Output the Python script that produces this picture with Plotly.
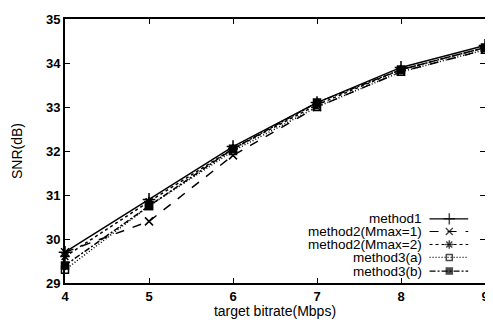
import plotly.graph_objects as go

bitrate = [4, 5, 6, 7, 8, 9]
method1 = [29.7, 30.9, 32.1, 33.1, 33.9, 34.4]
method2_m1 = [29.7, 30.4, 31.9, 33.0, 33.8, 34.3]
method2_m2 = [29.6, 30.85, 32.05, 33.05, 33.85, 34.35]
method3_a = [29.3, 30.75, 32.0, 33.0, 33.8, 34.3]
method3_b = [29.4, 30.75, 32.05, 33.1, 33.85, 34.35]

names = ["method1", "method2(Mmax=1)", "method2(Mmax=2)", "method3(a)", "method3(b)"]
series = [method1, method2_m1, method2_m2, method3_a, method3_b]
dashes = ["solid", "dash", "3px,3px", "1px,2px", "6px,2px,2px,2px"]
symbols = ["cross-thin", "x-thin", "asterisk-open", "square-open", "square"]
sizes = [9, 8, 8, 7, 7]

FONT = "Liberation Sans, Arial, sans-serif"
fig = go.Figure()

for name, ys, d, s, sz in zip(names, series, dashes, symbols, sizes):
    fig.add_trace(go.Scatter(
        x=bitrate, y=ys, name=name, mode="lines+markers", cliponaxis=False,
        line=dict(color="black", width=1.5, dash=d),
        marker=dict(symbol=s, size=sz, color="black",
                    line=dict(color="black", width=1.5)),
        showlegend=False))

# custom legend (text right-aligned, sample to the right)
leg_rows = [0.243, 0.195, 0.146, 0.097, 0.045]
text_x = 0.853
samp_x0, samp_xm, samp_x1 = 0.868, 0.915, 0.96
for name, yr, d, s, sz in zip(names, leg_rows, dashes, symbols, sizes):
    fig.add_trace(go.Scatter(
        x=[samp_x0, samp_xm, samp_x1], y=[yr, yr, yr], mode="lines+markers",
        xaxis="x2", yaxis="y2",
        line=dict(color="black", width=1.1, dash=d),
        marker=dict(symbol=s, size=[0, sz - 1, 0], color="black",
                    line=dict(color="black", width=1.5)),
        showlegend=False, hoverinfo="skip"))
    fig.add_annotation(x=text_x, y=yr, xref="paper", yref="paper",
                       text=name, showarrow=False, xanchor="right", yanchor="middle",
                       borderpad=0,
                       font=dict(family=FONT, size=13.5, color="black"))

axis_common = dict(showline=True, linecolor="black", linewidth=1.8, mirror="ticks",
                   ticks="inside", ticklen=5, tickwidth=1.2, tickcolor="black",
                   showgrid=False, zeroline=False,
                   tickfont=dict(family=FONT, size=13, color="black", weight="bold"))

# the page body adds an 8px offset, so the figure is sized to fill the window after it
fig.update_layout(
    width=485, height=314,
    margin=dict(l=57, r=4, t=8, b=39),
    paper_bgcolor="white", plot_bgcolor="white",
    font=dict(family=FONT, color="black"),
    xaxis=dict(range=[4, 9], dtick=1, title=dict(text="target bitrate(Mbps)", standoff=2,
               font=dict(family=FONT, size=14)), **axis_common),
    yaxis=dict(range=[29, 35], dtick=1, title=dict(text="SNR(dB)", standoff=20,
               font=dict(family=FONT, size=14)), **axis_common),
    xaxis2=dict(range=[0, 1], overlaying="x", visible=False),
    yaxis2=dict(range=[0, 1], overlaying="y", visible=False),
)

fig.write_html("out.html")
